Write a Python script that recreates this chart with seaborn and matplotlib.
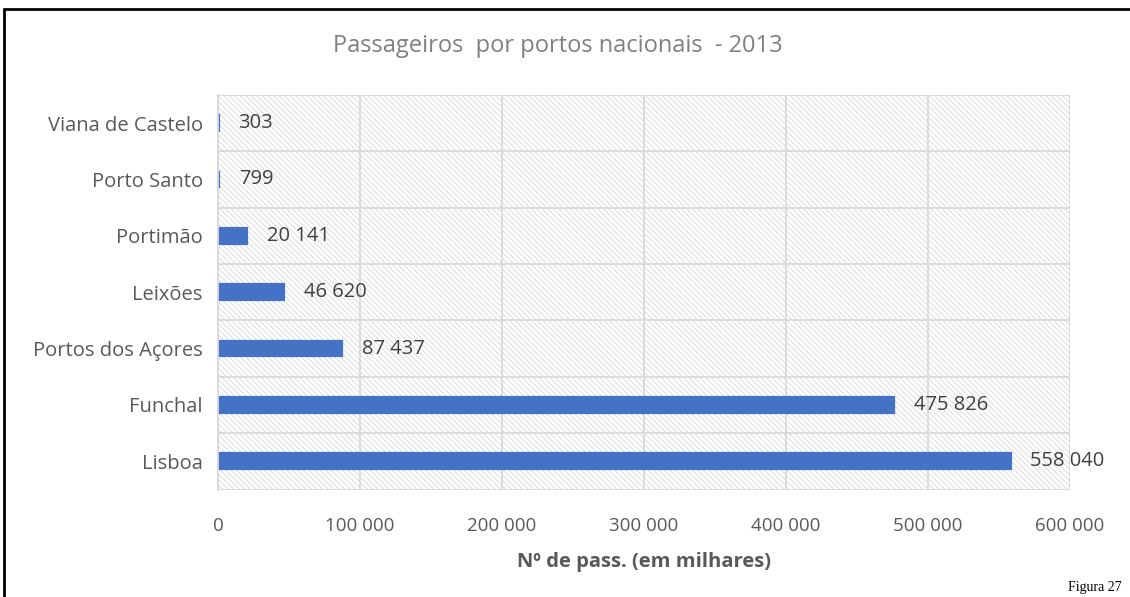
import matplotlib
matplotlib.use('Agg')
import matplotlib.pyplot as plt
import seaborn as sns
import pandas as pd
from matplotlib.lines import Line2D

portos = ['Viana de Castelo', 'Porto Santo', 'Portimão', 'Leixões',
          'Portos dos Açores', 'Funchal', 'Lisboa']
passageiros = [303, 799, 20141, 46620, 87437, 475826, 558040]
xticks = [0, 100000, 200000, 300000, 400000, 500000, 600000]

df = pd.DataFrame({'porto': portos, 'pass': passageiros})

sns.set_theme(style='white')
plt.rcParams['font.family'] = ['Open Sans', 'DejaVu Sans']
plt.rcParams['hatch.color'] = '#dcdcdc'
plt.rcParams['hatch.linewidth'] = 0.7

def fmt(v):
    return f'{v:,.0f}'.replace(',', ' ')

fig = plt.figure(figsize=(11.3, 5.97), dpi=100)
ax = fig.add_axes([0.193, 0.180, 0.754, 0.661])

# fundo tracejado da área do gráfico
ax.patch.set_facecolor('white')
ax.patch.set_hatch('\\\\\\\\\\\\')
ax.patch.set_edgecolor('#dcdcdc')
ax.patch.set_linewidth(0)

sns.barplot(data=df, x='pass', y='porto', order=portos, color='#4472C4',
            width=0.28, orient='h', ax=ax, saturation=1,
            edgecolor='#4472C4', linewidth=1.6)

for i, v in enumerate(passageiros):
    ax.text(v + 14000, i, fmt(v), va='center', ha='left', fontsize=14.5, color='#404040')

ax.set_xlim(0, 600000)
ax.set_ylim(6.5, -0.5)
ax.set_xticks(xticks)
ax.set_xticklabels([fmt(t) for t in xticks], fontsize=13.5, color='#595959')
ax.set_yticks(range(len(portos)))
ax.set_yticklabels(portos, fontsize=14.5, color='#595959')
ax.set_yticks([i - 0.5 for i in range(len(portos) + 1)], minor=True)
ax.tick_params(axis='both', which='both', length=0)
ax.tick_params(axis='x', pad=20)
ax.tick_params(axis='y', pad=11)

ax.grid(True, axis='x', which='major', color='#d9d9d9', linewidth=1.3)
ax.grid(True, axis='y', which='minor', color='#d9d9d9', linewidth=1.3)
ax.grid(False, axis='y', which='major')
ax.set_axisbelow(True)
for s in ['top', 'right', 'bottom']:
    ax.spines[s].set_visible(False)
ax.spines['left'].set_color('#d9d9d9')
ax.spines['left'].set_linewidth(1.3)

ax.set_ylabel('')
ax.set_xlabel('Nº de pass. (em milhares)', fontsize=14.5, fontweight='bold',
              color='#595959', labelpad=12)

fig.text(0.494, 0.923, 'Passageiros  por portos nacionais  - 2013', ha='center',
         va='center', fontsize=17, color='#808080')
fig.text(0.993, 0.005, 'Figura 27', ha='right', va='bottom', fontsize=10,
         color='black', family='Liberation Serif')

# moldura preta (topo e esquerda)
fig.add_artist(Line2D([0.0035, 1.0], [0.985, 0.985], color='black', linewidth=2))
fig.add_artist(Line2D([0.0035, 0.0035], [0.0, 0.985], color='black', linewidth=2))

fig.savefig('out.png', dpi=100)
